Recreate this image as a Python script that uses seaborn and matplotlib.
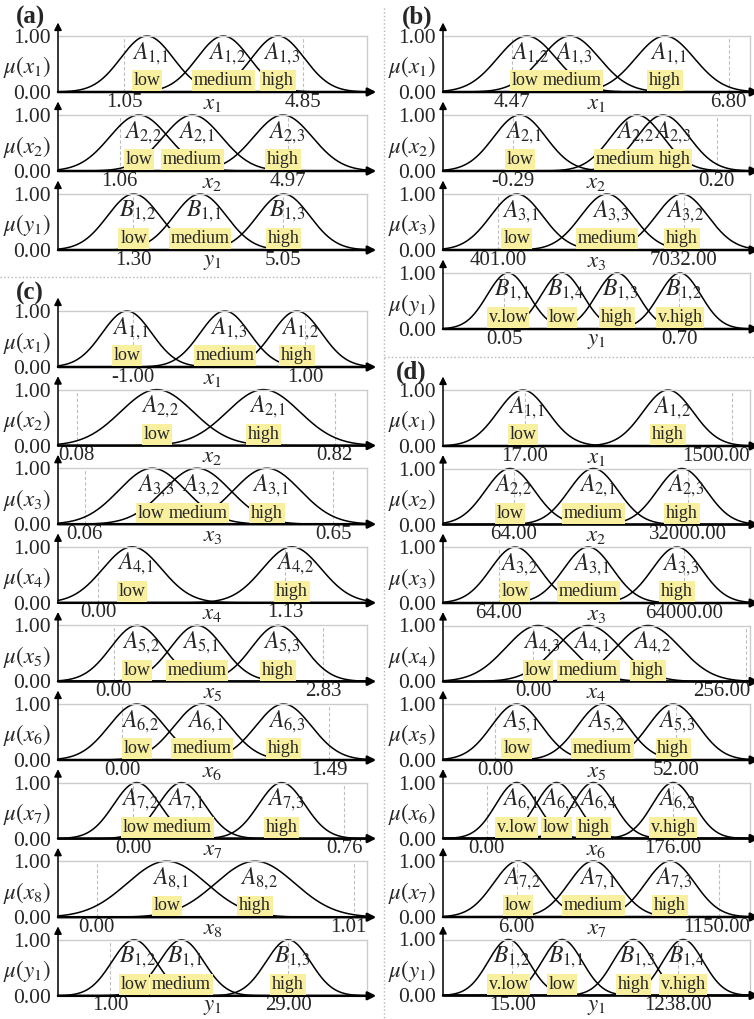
import numpy as np
import pandas as pd
import matplotlib
matplotlib.use('Agg')
import matplotlib.pyplot as plt
import seaborn as sns
from matplotlib.lines import Line2D
from matplotlib.transforms import Affine2D

sns.set_theme(style='white')
plt.rcParams['font.family'] = ['Liberation Serif', 'DejaVu Serif']
plt.rcParams['mathtext.fontset'] = 'stix'

# ---- panel (a) ----
a_vars = ['x_1', 'x_2', 'y_1']
a_ticks = [['1.05', '4.85'], ['1.06', '4.97'], ['1.30', '5.05']]
a_tickpos = [[0.214, 0.793], [0.20, 0.745], [0.243, 0.728]]
a_names = [['A_{1,1}', 'A_{1,2}', 'A_{1,3}'], ['A_{2,2}', 'A_{2,1}', 'A_{2,3}'], ['B_{1,2}', 'B_{1,1}', 'B_{1,3}']]
a_terms = [['low', 'medium', 'high'], ['low', 'medium', 'high'], ['low', 'medium', 'high']]
a_centres = [[0.288, 0.535, 0.712], [0.262, 0.435, 0.728], [0.245, 0.46, 0.73]]
a_sigma = [0.085, 0.095, 0.085]

# ---- panel (b) ----
b_vars = ['x_1', 'x_2', 'x_3', 'y_1']
b_ticks = [['4.47', '6.80'], ['-0.29', '0.20'], ['401.00', '7032.00'], ['0.05', '0.70']]
b_tickpos = [[0.225, 0.93], [0.228, 0.892], [0.18, 0.785], [0.20, 0.77]]
b_names = [['A_{1,2}', 'A_{1,3}', 'A_{1,1}'], ['A_{2,1}', 'A_{2,2}', 'A_{2,3}'],
           ['A_{3,1}', 'A_{3,3}', 'A_{3,2}'], ['B_{1,1}', 'B_{1,4}', 'B_{1,3}', 'B_{1,2}']]
b_terms = [['low', 'medium', 'high'], ['low', 'medium', 'high'], ['low', 'medium', 'high'],
           ['v.low', 'low', 'high', 'v.high']]
b_centres = [[0.273, 0.414, 0.723], [0.25, 0.632, 0.717], [0.24, 0.534, 0.778], [0.212, 0.388, 0.567, 0.772]]
b_sigma = [0.095, 0.085, 0.085, 0.068]

# ---- panel (c) ----
c_vars = ['x_1', 'x_2', 'x_3', 'x_4', 'x_5', 'x_6', 'x_7', 'x_8', 'y_1']
c_ticks = [['-1.00', '1.00'], ['0.08', '0.82'], ['0.06', '0.65'], ['0.00', '1.13'], ['0.00', '2.83'],
           ['0.00', '1.49'], ['0.00', '0.76'], ['0.00', '1.01'], ['1.00', '29.00']]
c_tickpos = [[0.243, 0.80], [0.06, 0.896], [0.087, 0.89], [0.13, 0.735], [0.18, 0.858],
             [0.207, 0.877], [0.243, 0.927], [0.126, 0.958], [0.168, 0.745]]
c_names = [['A_{1,1}', 'A_{1,3}', 'A_{1,2}'], ['A_{2,2}', 'A_{2,1}'], ['A_{3,3}', 'A_{3,2}', 'A_{3,1}'],
           ['A_{4,1}', 'A_{4,2}'], ['A_{5,2}', 'A_{5,1}', 'A_{5,3}'], ['A_{6,2}', 'A_{6,1}', 'A_{6,3}'],
           ['A_{7,2}', 'A_{7,1}', 'A_{7,3}'], ['A_{8,1}', 'A_{8,2}'], ['B_{1,2}', 'B_{1,1}', 'B_{1,3}']]
c_terms = [['low', 'medium', 'high'], ['low', 'high'], ['low', 'medium', 'high'], ['low', 'high'],
           ['low', 'medium', 'high'], ['low', 'medium', 'high'], ['low', 'medium', 'high'],
           ['low', 'high'], ['low', 'medium', 'high']]
c_centres = [[0.223, 0.54, 0.773], [0.32, 0.665], [0.305, 0.45, 0.676], [0.24, 0.757],
             [0.256, 0.45, 0.712], [0.255, 0.466, 0.73], [0.255, 0.40, 0.724], [0.352, 0.638],
             [0.246, 0.40, 0.745]]
c_sigma = [0.08, 0.117, 0.108, 0.095, 0.085, 0.09, 0.075, 0.128, 0.072]

# ---- panel (d) ----
d_vars = ['x_1', 'x_2', 'x_3', 'x_4', 'x_5', 'x_6', 'x_7', 'y_1']
d_ticks = [['17.00', '1500.00'], ['64.00', '32000.00'], ['64.00', '64000.00'], ['0.00', '256.00'],
           ['0.00', '52.00'], ['0.00', '176.00'], ['6.00', '1150.00'], ['15.00', '1238.00']]
d_tickpos = [[0.267, 0.94], [0.23, 0.798], [0.182, 0.785], [0.293, 0.987], [0.17, 0.76],
             [0.143, 0.75], [0.24, 0.90], [0.226, 0.766]]
d_names = [['A_{1,1}', 'A_{1,2}'], ['A_{2,2}', 'A_{2,1}', 'A_{2,3}'], ['A_{3,2}', 'A_{3,1}', 'A_{3,3}'],
           ['A_{4,3}', 'A_{4,1}', 'A_{4,2}'], ['A_{5,1}', 'A_{5,2}', 'A_{5,3}'],
           ['A_{6,1}', 'A_{6,3}', 'A_{6,4}', 'A_{6,2}'], ['A_{7,2}', 'A_{7,1}', 'A_{7,3}'],
           ['B_{1,2}', 'B_{1,1}', 'B_{1,3}', 'B_{1,4}']]
d_terms = [['low', 'high'], ['low', 'medium', 'high'], ['low', 'medium', 'high'], ['low', 'medium', 'high'],
           ['low', 'medium', 'high'], ['v.low', 'low', 'high', 'v.high'], ['low', 'medium', 'high'],
           ['v.low', 'low', 'high', 'v.high']]
d_centres = [[0.26, 0.733], [0.218, 0.49, 0.778], [0.235, 0.473, 0.762], [0.31, 0.473, 0.668],
             [0.24, 0.52, 0.75], [0.24, 0.37, 0.49, 0.75], [0.245, 0.49, 0.74], [0.213, 0.388, 0.62, 0.782]]
d_sigma = [0.082, 0.08, 0.08, 0.105, 0.082, 0.068, 0.08, 0.066]

W, H = 754, 1019
ROW_H = 56
YELLOW = '#f8ef9f'

fig = plt.figure(figsize=(W / 100, H / 100), dpi=100)
label_groups = []


def draw_row(left, width, bottom, var, ticks, tickpos, names, terms, centres, sigma):
    ax = fig.add_axes([left / W, (H - bottom) / H, width / W, ROW_H / H])
    grid = np.linspace(0, 1, 500)
    df = pd.DataFrame({
        'x': np.tile(grid, len(centres)),
        'mu': np.concatenate([np.exp(-0.5 * ((grid - c) / sigma) ** 2) for c in centres]),
        'set': np.repeat(names, len(grid)),
    })
    sns.lineplot(data=df, x='x', y='mu', units='set', estimator=None, color='black',
                 lw=1.1, ax=ax, legend=False)
    for l in ax.lines:
        l.set_clip_on(False)
    ax.set_xlim(0, 1)
    ax.set_ylim(0, 1)
    ax.set_xlabel('')
    ax.set_ylabel('')
    for p in tickpos:
        ax.axvline(p, color='#bdbdbd', ls=(0, (3, 2)), lw=0.8, zorder=0)

    ax.set_xticks([tickpos[0], 0.5, tickpos[1]], [ticks[0], f'${var}$', ticks[1]])
    ax.set_yticks([0, 0.5, 1], ['0.00', rf'$\mu({var})$', '1.00'])
    ax.tick_params(axis='x', length=0, pad=0.5, labelsize=15)
    ax.tick_params(axis='y', length=0, pad=5, labelsize=15.5)
    ax.get_xticklabels()[1].set_fontsize(16.5)
    ax.get_yticklabels()[1].set_fontsize(16.5)

    for s in ['top', 'right']:
        ax.spines[s].set_color('#cccccc')
        ax.spines[s].set_linewidth(1.0)
    ax.spines['left'].set_visible(False)
    ax.spines['bottom'].set_visible(False)
    ax.annotate('', xy=(1.03, 0), xytext=(0, 0), xycoords='axes fraction',
                arrowprops=dict(arrowstyle='-|>', color='black', lw=1.8, mutation_scale=12,
                                shrinkA=0, shrinkB=0), annotation_clip=False)
    ax.annotate('', xy=(0, 1.24), xytext=(0, 0), xycoords='axes fraction',
                arrowprops=dict(arrowstyle='-|>', color='black', lw=1.1, mutation_scale=11,
                                shrinkA=0, shrinkB=0), annotation_clip=False)

    terms_txt, names_txt = [], []
    for n, t, c in zip(names, terms, centres):
        tex = n.replace(',', r',\!')
        names_txt.append(ax.text(c + 0.012, 0.69, f'${tex}$', ha='center', va='center', fontsize=17))
        terms_txt.append(ax.text(c, 0.2, t, ha='center', va='center', fontsize=13, zorder=5,
                                 bbox=dict(boxstyle='square,pad=0.1', fc=YELLOW, ec='none')))
    label_groups.append((ax, terms_txt, True))
    label_groups.append((ax, names_txt, False))
    return ax


axes = []
for i in range(len(a_vars)):
    axes.append(draw_row(58, 309, 92 + 79 * i, a_vars[i], a_ticks[i], a_tickpos[i],
                         a_names[i], a_terms[i], a_centres[i], a_sigma[i]))
for i in range(len(b_vars)):
    axes.append(draw_row(443, 307, 92 + 79 * i, b_vars[i], b_ticks[i], b_tickpos[i],
                         b_names[i], b_terms[i], b_centres[i], b_sigma[i]))
for i in range(len(c_vars)):
    axes.append(draw_row(58, 309, 367 + 78.6 * i, c_vars[i], c_ticks[i], c_tickpos[i],
                         c_names[i], c_terms[i], c_centres[i], c_sigma[i]))
for i in range(len(d_vars)):
    axes.append(draw_row(443, 307, 446 + 78.5 * i, d_vars[i], d_ticks[i], d_tickpos[i],
                         d_names[i], d_terms[i], d_centres[i], d_sigma[i]))

# panel letters and separators
for lbl, x, y in [('(a)', 16, 17), ('(b)', 402, 17), ('(c)', 16, 293), ('(d)', 396, 372)]:
    fig.text(x / W, 1 - y / H, lbl, fontsize=18, fontweight='bold', ha='left', va='center')

sep = dict(color='#b5b5b5', ls=':', lw=1.0, transform=fig.transFigure)
fig.add_artist(Line2D([0, 380 / W], [1 - 277 / H] * 2, **sep))
fig.add_artist(Line2D([384 / W] * 2, [1 - 8 / H, 0], **sep))
fig.add_artist(Line2D([384 / W, 1], [1 - 357 / H] * 2, **sep))

# push touching labels apart and keep tick labels inside the frame
fig.canvas.draw()
renderer = fig.canvas.get_renderer()


def extent(t, boxed):
    if boxed:
        return t.get_bbox_patch().get_window_extent(renderer)
    return t.get_window_extent(renderer)


for _ in range(3):
    for ax, texts, boxed in label_groups:
        axw = ax.bbox.width
        texts = sorted(texts, key=lambda t: t.get_position()[0])
        for j in range(1, len(texts)):
            b0 = extent(texts[j - 1], boxed)
            b1 = extent(texts[j], boxed)
            ov = b0.x1 - b1.x0
            if ov > 0:
                x0, y0 = texts[j - 1].get_position()
                x1, y1 = texts[j].get_position()
                texts[j - 1].set_position((x0 - ov / 2 / axw, y0))
                texts[j].set_position((x1 + ov / 2 / axw, y1))
    fig.canvas.draw()

for ax in axes:
    for lab in ax.get_xticklabels():
        bb = lab.get_window_extent(renderer)
        if bb.x1 > ax.bbox.x1 + 1:
            lab.set_transform(lab.get_transform() + Affine2D().translate(ax.bbox.x1 - bb.x1, 0))

fig.savefig('out.png', dpi=100)
